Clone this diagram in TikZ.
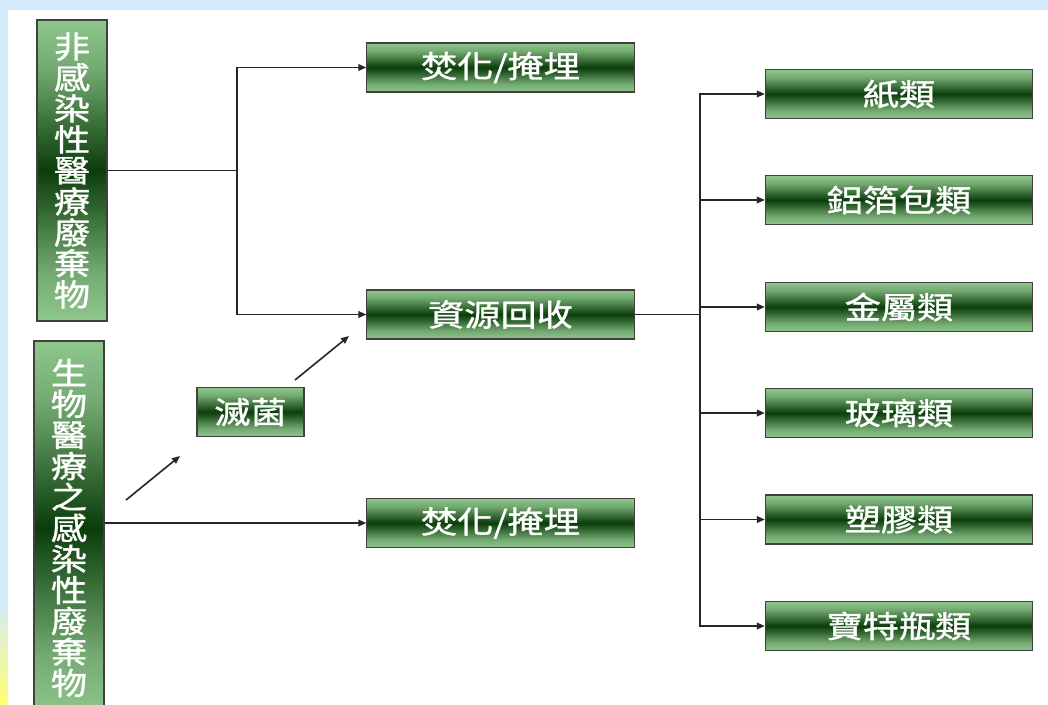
\documentclass[tikz,border=0pt]{standalone}
\usepackage{fontspec}
\newfontfamily\cjk[FakeStretch=1.18,FakeBold=1.2]{Noto Sans CJK TC}
\usetikzlibrary{arrows.meta}
\definecolor{lg}{HTML}{8FC68C}
\definecolor{dg}{HTML}{0A3D0A}
\definecolor{bgblue}{HTML}{D3EBFA}
\pgfdeclareverticalshading{gbox}{100bp}{color(0bp)=(lg); color(25bp)=(lg); color(33bp)=(lg!80!dg); color(50bp)=(dg); color(67bp)=(lg!80!dg); color(75bp)=(lg); color(100bp)=(lg)}
\begin{document}
\begin{tikzpicture}[x=0.75pt,y=-0.75pt,
  box/.style={draw=black!75, line width=0.8pt, shading=gbox,
    text=white, font=\cjk\fontsize{23}{23.25}\selectfont, inner sep=0pt, minimum height=36.75pt},
  wide/.style={box, minimum width=200.5pt},
  vbox/.style={box, minimum width=52.5pt, align=center},
  conn/.style={draw=black!85, line width=1.2pt},
  arr/.style={conn, -{Triangle[length=6pt,width=5pt]}}]
\useasboundingbox (0,0) rectangle (1048,704);
\fill[bgblue] (0,0) rectangle (1048,704);
\fill[white] (8,10) rectangle (1048,704);
\shade[top color=bgblue, bottom color=yellow!55] (0,600) rectangle (8,704);

\node[vbox, minimum height=225.75pt] (vb1) at (72,170.5) {非\\感\\染\\性\\醫\\療\\廢\\棄\\物};
\node[vbox, minimum height=280.5pt] (vb2) at (69,528) {生\\物\\醫\\療\\之\\感\\染\\性\\廢\\棄\\物};

\node[wide] (f1) at (500.5,67.5) {焚化/掩埋};
\node[wide] (rc) at (500.5,314.5) {資源回收};
\node[wide] (f2) at (500.5,523) {焚化/掩埋};
\node[box, minimum width=80.25pt] (st) at (250.5,412) {滅菌};

\node[wide] (r1) at (899,94) {紙類};
\node[wide] (r2) at (899,200) {鋁箔包類};
\node[wide] (r3) at (899,307) {金屬類};
\node[wide] (r4) at (899,413) {玻璃類};
\node[wide] (r5) at (899,519.5) {塑膠類};
\node[wide] (r6) at (899,626) {寶特瓶類};

\coordinate (j1) at (237,170.5);
\draw[conn] (vb1.east) -- (j1);
\draw[arr] (j1) |- (f1.west);
\draw[arr] (j1) |- (rc.west);
\draw[arr] (vb2.east |- f2.west) -- (f2.west);

\coordinate (d1) at (126,500);
\coordinate (d2) at (180,456);
\coordinate (d3) at (295,380);
\coordinate (d4) at (349,336);
\draw[arr] (d1) -- (d2);
\draw[arr] (d3) -- (d4);

\coordinate (j2) at (700,314.5);
\draw[conn] (rc.east) -- (j2);
\foreach \r in {r1,r2,r3,r4,r5,r6} \draw[arr] (j2) |- (\r.west);
\end{tikzpicture}
\end{document}
